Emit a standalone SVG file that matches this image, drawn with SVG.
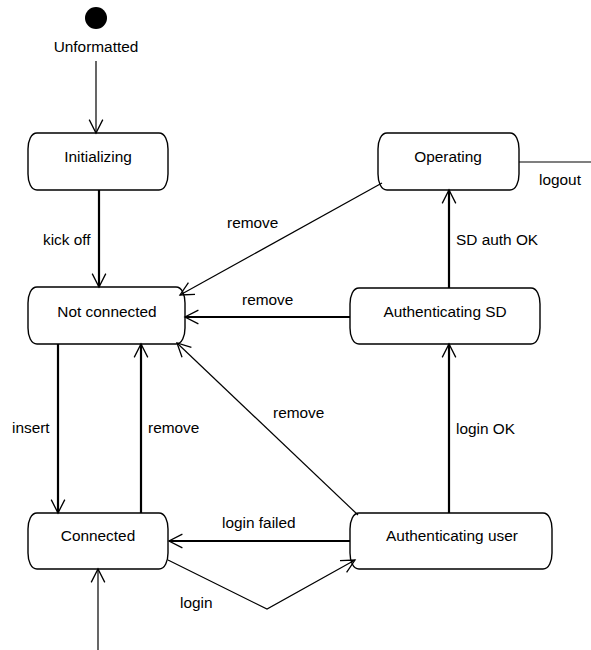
<svg xmlns="http://www.w3.org/2000/svg" width="591" height="650" viewBox="0 0 591 650">
<style>
text{font-family:"Liberation Sans",Arial,sans-serif;font-size:15.4px;fill:#000}
.st path{fill:#fff;stroke:#000;stroke-width:1.4}
.st text{text-anchor:middle}
.thin{fill:none;stroke:#000;stroke-width:1.2}
.thick{fill:none;stroke:#000;stroke-width:2.2}
.arr{marker-end:url(#ah)}
</style>
<defs>
<marker id="ah" markerUnits="userSpaceOnUse" markerWidth="20" markerHeight="20" refX="16" refY="10" orient="auto" overflow="visible">
<path d="M2.6,3.2 L16,10 L2.6,16.8" fill="none" stroke="#000" stroke-width="1.3"/>
</marker>
</defs>
<g id="start">
<circle cx="96" cy="18" r="11" fill="#000"/>
<text x="96" y="52" text-anchor="middle">Unformatted</text>
</g>
<g id="initializing" class="st">
<path d="M37,133 H159 C165,133 168,141 168,149 V174 C168,182 165,190 159,190 H37 C31,190 28,182 28,174 V149 C28,141 31,133 37,133 Z"/>
<text x="98" y="162">Initializing</text>
</g>
<g id="not-connected" class="st">
<path d="M37,287 H176 C182,287 185,295 185,303 V328 C185,336 182,344 176,344 H37 C31,344 28,336 28,328 V303 C28,295 31,287 37,287 Z"/>
<text x="107" y="317">Not connected</text>
</g>
<g id="connected" class="st">
<path d="M37,513 H159 C165,513 168,521 168,529 V553 C168,561 165,569 159,569 H37 C31,569 28,561 28,553 V529 C28,521 31,513 37,513 Z"/>
<text x="98" y="541">Connected</text>
</g>
<g id="operating" class="st">
<path d="M387,133 H510 C516,133 519,141 519,149 V174 C519,182 516,190 510,190 H387 C381,190 378,182 378,174 V149 C378,141 381,133 387,133 Z"/>
<text x="448" y="162">Operating</text>
</g>
<g id="authenticating-sd" class="st">
<path d="M359,288 H531 C537,288 540,296 540,304 V328 C540,336 537,344 531,344 H359 C353,344 350,336 350,328 V304 C350,296 353,288 359,288 Z"/>
<text x="445" y="317">Authenticating SD</text>
</g>
<g id="authenticating-user" class="st">
<path d="M359,513 H543 C549,513 552,521 552,529 V553 C552,561 549,569 543,569 H359 C353,569 350,561 350,553 V529 C350,521 353,513 359,513 Z"/>
<text x="452" y="541">Authenticating user</text>
</g>
<g id="connectors">
<path class="thin arr" d="M96,61 V133"/>
<path class="thick arr" d="M99,190 V287"/>
<path class="thin arr" d="M382,183 L180,295"/>
<path class="thick arr" d="M350,317 H185"/>
<path class="thick arr" d="M58,344 V513"/>
<path class="thick arr" d="M141,513 V344"/>
<path class="thin arr" d="M358,515 L177,343"/>
<path class="thick arr" d="M350,541 H169"/>
<path class="thin arr" d="M168,560 L267,609 L355,560"/>
<path class="thick arr" d="M449,513 V344"/>
<path class="thick arr" d="M449,288 V190"/>
<path class="thin" d="M519,162 H591"/>
<path class="thin arr" d="M98,650 V569"/>
<text x="43" y="245">kick off</text>
<text x="227" y="228">remove</text>
<text x="242" y="305">remove</text>
<text x="456" y="245">SD auth OK</text>
<text x="539" y="185">logout</text>
<text x="12" y="433">insert</text>
<text x="148" y="433">remove</text>
<text x="273" y="418">remove</text>
<text x="456" y="434">login OK</text>
<text x="222" y="528">login failed</text>
<text x="180" y="608">login</text>
</g>
</svg>
